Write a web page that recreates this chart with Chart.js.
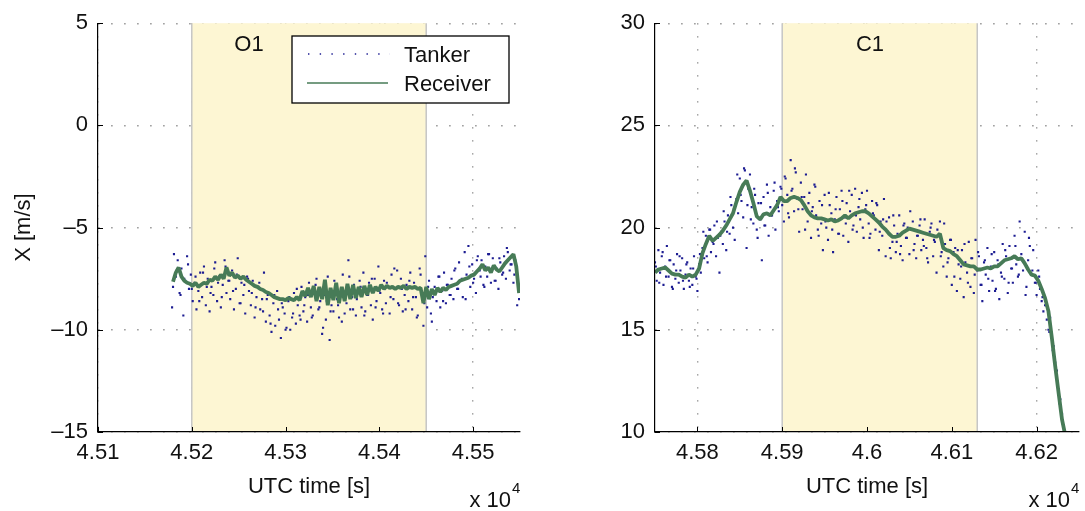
<!DOCTYPE html>
<html><head><meta charset="utf-8">
<script src="https://cdn.jsdelivr.net/npm/chart.js@4.4.1/dist/chart.umd.min.js"></script>
<style>
html,body{margin:0;padding:0;background:#fff;width:1085px;height:511px;overflow:hidden;}
#wrapL{position:absolute;left:0;top:0;width:540px;height:511px;}
#wrapR{position:absolute;left:540px;top:0;width:545px;height:511px;}
</style></head><body>
<div id="wrapL"><canvas id="cL" width="540" height="511"></canvas></div>
<div id="wrapR"><canvas id="cR" width="545" height="511"></canvas></div>
<script>
// ---------- axes / ticks ----------
const leftXTicks  = [45100, 45200, 45300, 45400, 45500];
const leftXLabels = ['4.51', '4.52', '4.53', '4.54', '4.55'];
const leftYTicks  = [-15, -10, -5, 0, 5];
const leftYLabels = ['\u201315', '\u201310', '\u20135', '0', '5'];
const rightXTicks  = [45800, 45900, 46000, 46100, 46200];
const rightXLabels = ['4.58', '4.59', '4.6', '4.61', '4.62'];
const rightYTicks  = [10, 15, 20, 25, 30];
const rightYLabels = ['10', '15', '20', '25', '30'];
const leftXRange  = [45100, 45550];
const leftYRange  = [-15, 5];
const rightXRange = [45750, 46250];
const rightYRange = [10, 30];

// ---------- shaded phases ----------
const phaseO1 = [45200, 45450];
const phaseC1 = [45900, 46130];

// ---------- left panel (O1): sample times start / spacing [s] ----------
const leftRecStart = 45180, leftRecStep = 3;
const leftReceiver = [
 -7.65,-7.2,-6.95,-7.4,-7.6,-7.7,-7.75,-7.85,-7.7,-7.9,-7.8,-7.7,-7.75,-7.55,-7.6,-7.4,-7.55,-7.3,-7.5,-6.95,
 -7.35,-7.2,-7.45,-7.35,-7.5,-7.4,-7.55,-7.65,-7.75,-7.85,-7.9,-8.0,-8.05,-8.15,-8.2,-8.3,-8.4,-8.45,-8.5,-8.5,
 -8.55,-8.45,-8.5,-8.55,-8.4,-8.55,-8.1,-8.35,-7.95,-8.4,-7.85,-8.6,-7.9,-8.5,-7.55,-8.8,-7.95,-8.55,-7.7,-8.7,
 -7.9,-8.6,-7.75,-8.5,-7.8,-8.45,-7.9,-8.4,-7.85,-8.3,-7.8,-8.2,-7.9,-8.1,-7.8,-8.0,-7.85,-7.95,-7.9,-8.0,
 -7.9,-7.95,-7.85,-8.0,-7.9,-7.95,-7.9,-8.0,-7.95,-8.7,-7.9,-8.5,-8.0,-8.3,-7.95,-8.15,-7.95,-8.05,-7.9,-7.85,
 -7.8,-7.75,-7.6,-7.55,-7.5,-7.45,-7.35,-7.3,-7.15,-7.0,-6.8,-7.1,-6.95,-7.2,-6.85,-7.05,-7.15,-6.95,-6.75,-6.6,
 -6.45,-6.3,-6.9,-8.2
];
const leftTanStart = 45179, leftTanStep = 2;
const leftTanker = [
 -8.9,-6.3,-7.4,-6.6,-8.2,-7.0,-9.3,-7.6,-6.4,-8.0,-7.3,
 -8.6,-7.7,-9.0,-8.1,-7.2,-8.4,-6.9,-8.8,-7.5,-9.1,
 -7.9,-8.3,-6.7,-8.6,-7.4,-8.9,-7.8,-6.6,-8.2,-7.6,
 -8.5,-7.1,-9.0,-8.0,-6.5,-8.7,-7.7,-8.3,-9.2,-7.4,
 -8.1,-8.8,-7.6,-9.4,-8.4,-7.9,-9.0,-8.5,-7.2,-9.6,
 -8.3,-9.3,-10.1,-8.7,-9.8,-8.1,-9.5,-10.4,-8.9,-9.2,
 -9.9,-8.6,-10.0,-9.4,-8.2,-9.7,-8.8,-9.3,-7.9,-9.1,
 -8.4,-9.6,-7.7,-8.9,-9.3,-8.1,-7.5,-9.0,-8.6,-10.2,
 -8.3,-9.5,-7.4,-10.5,-8.8,-9.1,-7.9,-8.5,-9.4,-8.0,
 -7.3,-9.2,-8.7,-6.6,-9.0,-8.4,-7.8,-9.3,-8.1,-7.6,
 -8.9,-7.2,-9.1,-8.3,-7.7,-8.8,-9.5,-7.5,-8.6,-6.9,
 -8.2,-9.0,-7.6,-8.7,-7.9,-9.2,-7.3,-8.5,-8.0,-7.1,
 -8.8,-7.5,-9.1,-8.3,-7.8,-8.6,-7.2,-9.0,-7.7,-8.4,
 -9.3,-7.0,-8.2,-9.8,-6.4,-8.9,-7.6,-9.2,-8.4,-7.9,
 -8.6,-7.4,-8.9,-8.1,-7.2,-8.7,-7.8,-8.3,-7.5,-8.5,
 -7.0,-8.0,-6.7,-7.6,-8.4,-6.2,-7.3,-5.9,-7.9,-6.8,
 -7.5,-8.2,-6.4,-7.1,-6.6,-7.8,-6.9,-7.4,-6.3,-7.7,
 -6.5,-7.6,-7.0,-8.0,-6.7,-7.3,-6.4,-7.5,-6.2,-7.1,
 -6.8,-7.7,-6.6,-8.8,-8.5
];
const leftTan2Start = 45180, leftTan2Step = 4;
const leftTanker2 = [
 -7.9,-7.1,-8.3,-7.5,-6.8,-8.0,-7.4,-8.6,-7.2,-7.9,-8.2,-7.0,-7.7,-8.4,-6.9,-7.6,-8.1,-7.3,-8.7,-7.8,-7.5,
 -8.2,-8.9,-7.7,-9.1,-8.5,-9.7,-8.3,-9.0,-8.7,-10.0,-8.4,-9.2,-8.0,-9.5,-8.8,-8.3,-9.4,-7.8,-8.9,-9.9,
 -8.6,-9.1,-7.6,-8.8,-9.6,-8.2,-7.4,-9.0,-8.5,-7.9,-9.3,-8.3,-7.5,-8.9,-8.1,-9.2,-7.7,-8.4,-7.0,-8.7,
 -8.0,-9.0,-7.6,-8.4,-9.4,-7.3,-8.7,-7.9,-9.6,-8.2,-7.4,-8.6,-7.8,-8.3,-7.1,-8.0,-7.5,-8.5,-6.9,-7.7,
 -6.6,-7.4,-7.9,-6.3,-7.0,-7.6,-6.5,-7.2,-6.0,-6.8,-7.3,-8.1
];

// ---------- right panel (C1) ----------
const rightRecStart = 45750, rightRecStep = 4;
const rightReceiver = [
 17.8,17.95,18.0,18.05,17.9,17.75,17.7,17.7,17.6,17.55,17.7,17.6,17.7,18.0,18.75,19.2,19.6,19.35,19.5,19.65,
 19.85,20.1,20.4,20.7,21.25,21.75,22.1,22.3,21.8,21.2,20.55,20.4,20.65,20.7,20.6,20.85,21.1,21.5,21.3,21.3,
 21.45,21.5,21.45,21.35,21.1,20.8,20.6,20.5,20.45,20.45,20.4,20.35,20.4,20.3,20.35,20.45,20.6,20.45,20.6,20.7,
 20.75,20.8,20.8,20.7,20.55,20.4,20.25,20.05,19.9,19.7,19.55,19.55,19.6,19.75,19.85,19.95,19.9,19.85,19.8,19.75,
 19.7,19.65,19.6,19.55,19.7,19.0,18.9,18.85,18.7,18.6,18.4,18.2,18.15,18.1,18.1,17.95,17.95,18.0,18.05,18.0,
 18.1,18.1,18.25,18.4,18.45,18.5,18.6,18.45,18.5,18.25,17.95,17.7,17.65,17.4,17.0,16.55,15.9,14.6,13.2,11.9,
 10.6,9.8
];
const rightTanStart = 45750, rightTanStep = 2;
const rightTanker = [
 18.3,17.4,18.9,17.8,18.6,17.2,18.1,19.1,17.6,18.4,
 17.1,18.2,17.5,18.7,17.3,17.9,18.5,17.0,17.7,18.3,
 17.4,18.0,17.2,18.6,17.6,16.9,18.2,17.8,19.0,18.5,
 19.6,18.3,19.9,18.8,19.3,20.1,18.6,19.5,17.8,19.8,
 19.2,20.3,18.9,20.6,19.7,21.1,20.0,19.4,21.4,20.7,
 22.4,21.3,20.5,22.8,19.0,21.9,22.6,21.0,20.2,21.6,
 19.9,21.2,20.4,18.4,21.5,20.1,22.1,19.6,21.0,20.6,
 21.8,19.9,21.3,20.8,22.0,21.1,20.3,22.4,21.6,20.5,
 23.3,21.9,20.8,22.7,21.4,19.8,22.2,20.9,21.5,22.6,
 20.3,21.7,19.5,21.0,22.1,20.6,19.9,21.3,20.2,18.9,
 21.6,20.0,19.4,21.1,20.7,18.8,20.4,21.5,19.7,20.9,
 21.8,19.6,20.5,21.2,19.3,20.8,21.6,20.1,21.9,19.8,
 21.0,20.4,21.7,19.5,20.9,21.8,20.2,19.7,21.3,20.6,
 19.9,21.1,18.9,20.3,19.6,21.4,18.6,19.8,20.5,18.5,
 19.3,20.1,18.8,19.7,20.6,19.1,18.4,20.2,19.5,20.0,
 18.7,19.9,20.3,19.2,18.5,19.6,20.1,18.9,19.4,20.4,
 19.0,18.3,19.8,20.2,18.6,19.3,17.8,19.6,20.3,18.8,
 18.1,19.2,17.6,18.5,19.4,17.2,18.8,19.0,16.9,18.2,
 17.5,18.9,16.6,18.3,17.8,19.3,17.1,18.5,16.8,19.4,
 17.9,18.6,17.2,16.4,18.3,17.7,19.0,16.9,18.1,17.4,
 18.8,17.0,18.4,16.5,17.8,19.2,17.5,18.6,16.8,19.1,
 18.0,17.3,19.6,18.2,17.6,20.3,18.7,17.9,19.8,17.1,
 18.4,19.1,17.7,18.9,17.3,16.7,17.9,17.0,16.4,15.9,
 16.2,15.5,15.0,15.6,14.7,14.2,13.4,13.0,12.1,11.6,
 10.9,10.3
];
const rightTan2Start = 45751, rightTan2Step = 4;
const rightTanker2 = [
 18.1,17.3,18.8,17.6,18.4,17.0,17.9,18.6,17.4,18.2,17.1,18.0,17.5,
 18.7,19.8,18.6,19.9,19.2,20.3,19.6,20.8,19.8,21.5,20.9,22.6,21.6,22.9,21.1,
 20.4,21.9,19.5,21.2,20.1,21.7,20.6,22.2,21.0,21.9,
 22.5,20.7,21.8,22.9,20.9,21.5,19.9,21.2,20.8,22.0,19.6,21.1,20.3,21.7,19.9,
 20.9,19.7,21.3,20.2,21.8,19.9,20.6,21.4,20.0,21.1,19.5,20.7,21.2,19.8,20.4,
 20.3,19.0,20.6,19.3,18.7,20.1,19.5,20.8,18.9,19.6,20.4,19.1,18.5,20.0,19.4,
 19.9,18.6,20.2,18.3,19.4,17.6,18.9,18.1,19.2,17.3,18.5,17.7,18.8,17.2,18.4,
 17.5,18.7,16.9,18.2,17.6,18.9,17.3,18.0,19.1,17.7,18.4,16.7,19.5,17.9,17.3,
 17.6,16.6,16.2,14.9,14.0,12.6,11.4,10.4
];

// ---------- styling ----------
const FONT = '"Liberation Sans", Arial, Helvetica, sans-serif';
const GREEN = '#477b57';
const BLUE = '#1c1c92';
const SHADE = '#fdf6d3';
const GRID = '#8c8c8c';

function series(t0, dt, vals) { return vals.map((v, i) => ({ x: t0 + dt * i, y: v })); }

const annot = {
  id: 'annot',
  beforeDatasetsDraw(chart, args, o) {
    const { ctx, chartArea: a, scales: { x } } = chart;
    const x0 = x.getPixelForValue(o.shade[0]);
    const x1 = x.getPixelForValue(o.shade[1]);
    ctx.save();
    ctx.fillStyle = SHADE;
    ctx.fillRect(x0, a.top, x1 - x0, a.bottom - a.top);
    ctx.strokeStyle = '#c6c6c6';
    ctx.lineWidth = 1.5;
    ctx.beginPath();
    ctx.moveTo(x0, a.top); ctx.lineTo(x0, a.bottom);
    ctx.moveTo(x1, a.top); ctx.lineTo(x1, a.bottom);
    ctx.stroke();
    ctx.restore();
  },
  afterDraw(chart, args, o) {
    const { ctx, chartArea: a, scales: { x, y } } = chart;
    ctx.save();
    ctx.strokeStyle = '#000'; ctx.lineWidth = 1;
    ctx.beginPath();
    o.xTicks.forEach(v => { const p = Math.round(x.getPixelForValue(v)) + 0.5; ctx.moveTo(p, a.bottom); ctx.lineTo(p, a.bottom - 5); });
    o.yTicks.forEach(v => { const p = Math.round(y.getPixelForValue(v)) + 0.5; ctx.moveTo(a.left, p); ctx.lineTo(a.left + 5, p); });
    ctx.stroke();
    ctx.fillStyle = '#111';
    ctx.font = '22px ' + FONT;
    ctx.textAlign = 'center'; ctx.textBaseline = 'alphabetic';
    ctx.fillText(o.phase, o.phaseX, 51);
    const cx = (a.left + a.right) / 2;
    ctx.fillText('UTC time [s]', cx, 493);
    ctx.textAlign = 'right';
    ctx.fillText('x 10', a.right - 9, 507);
    ctx.font = '15px ' + FONT;
    ctx.textAlign = 'left';
    ctx.fillText('4', a.right - 8, 493);
    if (o.ytitle) {
      ctx.font = '22px ' + FONT;
      ctx.save();
      ctx.translate(30, (a.top + a.bottom) / 2);
      ctx.rotate(-Math.PI / 2);
      ctx.textAlign = 'center'; ctx.textBaseline = 'alphabetic';
      ctx.fillText(o.ytitle, 0, 0);
      ctx.restore();
    }
    if (o.legend) {
      const L = o.legend;
      ctx.fillStyle = '#fff';
      ctx.fillRect(L.x, L.y, L.w, L.h);
      ctx.strokeStyle = '#000'; ctx.lineWidth = 1.3;
      ctx.strokeRect(L.x, L.y, L.w, L.h);
      ctx.strokeStyle = BLUE; ctx.lineWidth = 1.4;
      ctx.setLineDash([1.4, 10.3]);
      ctx.beginPath(); ctx.moveTo(L.x + 16, L.y + 18); ctx.lineTo(L.x + 98, L.y + 18); ctx.stroke();
      ctx.setLineDash([]);
      ctx.strokeStyle = GREEN; ctx.lineWidth = 1.5;
      ctx.beginPath(); ctx.moveTo(L.x + 15, L.y + 47); ctx.lineTo(L.x + 96, L.y + 47); ctx.stroke();
      ctx.fillStyle = '#111';
      ctx.font = '22px ' + FONT;
      ctx.textAlign = 'left'; ctx.textBaseline = 'alphabetic';
      ctx.fillText('Tanker', L.x + 112, L.y + 26);
      ctx.fillText('Receiver', L.x + 112, L.y + 55);
    }
    ctx.restore();
  }
};

function makeChart(id, c) {
  return new Chart(document.getElementById(id), {
    type: 'scatter',
    data: {
      datasets: [
        { label: 'Receiver', data: series(c.recT0, c.recDt, c.rec), showLine: true,
          borderColor: GREEN, borderWidth: 3.8, pointRadius: 0, tension: 0,
          borderJoinStyle: 'bevel', order: 0 },
        { label: 'Tanker', data: series(c.tanT0, c.tanDt, c.tan).concat(series(c.tan2T0, c.tan2Dt, c.tan2)),
          showLine: false, pointStyle: 'rect', pointRadius: 1.5, pointBackgroundColor: BLUE,
          pointBorderWidth: 0, pointHoverRadius: 0, order: 1 }
      ]
    },
    options: {
      responsive: false, animation: false, events: [],
      layout: { padding: { left: 0, top: 20, right: c.padRight, bottom: 0 } },
      plugins: {
        legend: { display: false }, tooltip: { enabled: false },
        annot: { shade: c.shade, phase: c.phase, phaseX: c.phaseX, xTicks: c.xTicks, yTicks: c.yTicks,
                 ytitle: c.ytitle, legend: c.legend }
      },
      scales: {
        x: {
          type: 'linear', min: c.xRange[0], max: c.xRange[1],
          afterFit: s => { s.height = 79; },
          afterBuildTicks: s => { s.ticks = c.xTicks.map(v => ({ value: v })); },
          ticks: { callback: (v, i) => c.xLabels[i], font: { family: FONT, size: 22 }, color: '#111',
                   padding: 8, maxRotation: 0, autoSkip: false },
          grid: { color: GRID, lineWidth: 1.4, drawTicks: false },
          border: { display: true, color: '#000', width: 1.2, dash: [1.4, 11.6], z: 1 }
        },
        y: {
          type: 'linear', min: c.yRange[0], max: c.yRange[1],
          afterFit: s => { s.width = c.yWidth; },
          afterBuildTicks: s => { s.ticks = c.yTicks.map(v => ({ value: v })); },
          ticks: { callback: (v, i) => c.yLabels[i], font: { family: FONT, size: 22 }, color: '#111',
                   padding: 10, autoSkip: false },
          grid: { color: GRID, lineWidth: 1.4, drawTicks: false },
          border: { display: true, color: '#000', width: 1.2, dash: [1.4, 11.6], z: 1 }
        }
      }
    },
    plugins: [annot]
  });
}

makeChart('cL', {
  rec: leftReceiver, recT0: leftRecStart, recDt: leftRecStep,
  tan: leftTanker, tanT0: leftTanStart, tanDt: leftTanStep,
  tan2: leftTanker2, tan2T0: leftTan2Start, tan2Dt: leftTan2Step,
  xRange: leftXRange, yRange: leftYRange, xTicks: leftXTicks, xLabels: leftXLabels,
  yTicks: leftYTicks, yLabels: leftYLabels, shade: phaseO1, phase: 'O1', phaseX: 249,
  yWidth: 98, padRight: 20, ytitle: 'X [m/s]',
  legend: { x: 292, y: 36, w: 217, h: 67 }
});
makeChart('cR', {
  rec: rightReceiver, recT0: rightRecStart, recDt: rightRecStep,
  tan: rightTanker, tanT0: rightTanStart, tanDt: rightTanStep,
  tan2: rightTanker2, tan2T0: rightTan2Start, tan2Dt: rightTan2Step,
  xRange: rightXRange, yRange: rightYRange, xTicks: rightXTicks, xLabels: rightXLabels,
  yTicks: rightYTicks, yLabels: rightYLabels, shade: phaseC1, phase: 'C1', phaseX: 330,
  yWidth: 115, padRight: 6, ytitle: null, legend: null
});
</script>
</body></html>
